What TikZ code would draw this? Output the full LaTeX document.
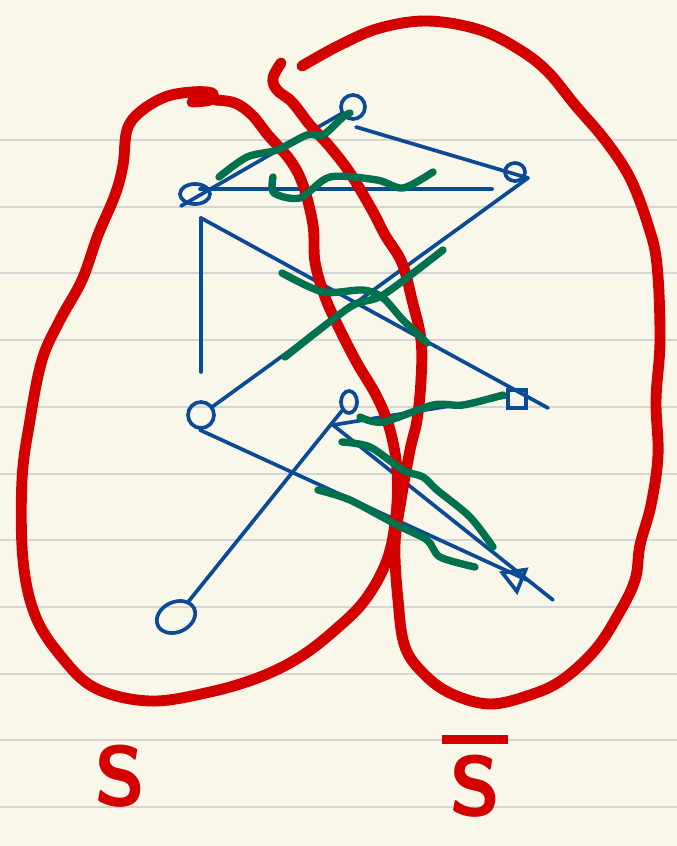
\documentclass[tikz,border=0pt]{standalone}
\usetikzlibrary{shapes.geometric}
\definecolor{paper}{HTML}{F8F7E9}
\definecolor{rule}{HTML}{D5D5D5}
\definecolor{inkred}{HTML}{D40000}
\definecolor{inkblue}{HTML}{0B4A94}
\definecolor{inkgreen}{HTML}{00714E}
\tikzset{
  vert/.style={draw=inkblue, line width=1.05pt, inner sep=0pt},
  edge/.style={draw=inkblue, line width=1.05pt, line cap=round},
  cutset/.style={draw=inkred, line width=3.1pt, line cap=round, line join=round},
  cutedge/.style={draw=inkgreen, line width=2.1pt, line cap=round, line join=round},
  setlabel/.style={text=inkred, font=\fontsize{24}{28}\selectfont\sffamily\bfseries}
}
\begin{document}
\begin{tikzpicture}[x=0.01cm, y=-0.01cm]
    % paper and ruling
    \fill[paper] (0,0) rectangle (677,846);
    \useasboundingbox (0,0) rectangle (677,846);
    \foreach \y in {140,207,273,340,407,474,540,607,674,740,807}
      \draw[rule, line width=0.6pt] (0,\y) -- (677,\y);

    % vertices
    \node[vert, circle, minimum size=0.24cm] (A) at (353,107) {};
    \node[vert, ellipse, minimum width=0.30cm, minimum height=0.20cm] (B) at (195,194) {};
    \node[vert, ellipse, minimum width=0.20cm, minimum height=0.18cm] (C) at (515,172) {};
    \node[vert, circle, minimum size=0.26cm] (D) at (201,415) {};
    \node[vert, ellipse, minimum width=0.16cm, minimum height=0.22cm] (E) at (349,402) {};
    \node[vert, rectangle, minimum size=0.18cm] (F) at (517,399) {};
    \node[vert, regular polygon, regular polygon sides=3, shape border rotate=180, minimum size=0.27cm, rotate=8] (G) at (515,578) {};
    \node[vert, ellipse, minimum width=0.40cm, minimum height=0.30cm, rotate=25] (H) at (176,617) {};

    % free ends
    \coordinate (b1) at (181,206);
    \coordinate (b2) at (200,189);
    \coordinate (b3) at (492,189);
    \coordinate (a1) at (356,127);
    \coordinate (c1) at (528,178);
    \coordinate (v1) at (201,218);
    \coordinate (v2) at (201,372);
    \coordinate (f1) at (548,408);
    \coordinate (d1) at (200,430);
    \coordinate (g1) at (527,580);
    \coordinate (e1) at (333,425);
    \coordinate (e2) at (553,600);
    \coordinate (f2) at (505,397);

    % edges
    \draw[edge] (b1) -- (A);
    \draw[edge] (a1) -- (c1);
    \draw[edge] (b2) -- (b3);
    \draw[edge] (c1) -- (D);
    \draw[edge] (v1) -- (v2);
    \draw[edge] (v1) -- (f1);
    \draw[edge] (d1) -- (g1);
    \draw[edge] (e1) -- (e2);
    \draw[edge] (e1) -- (f2);
    \draw[edge] (H) -- (E);

    % the two sides of the cut
    \draw[cutset] plot[smooth, tension=0.6] coordinates {
      (192,102) (210,100) (212,93) (192,92) (165,97) (140,112) (127,130)
      (123,165) (115,195) (98,235) (82,280) (60,320) (42,360) (30,420)
      (22,480) (23,560) (35,615) (60,655) (95,688) (150,701) (210,692)
      (260,677) (300,657) (335,630) (365,600) (387,560) (396,515) (397,470)
      (390,430) (377,397) (357,363) (340,330) (325,297) (315,262) (313,225)
      (303,185) (290,160) (268,135) (252,115) (235,103) (215,100)};
    \draw[cutset] plot[smooth, tension=0.6] coordinates {
      (302,66) (340,45) (380,28) (428,21) (480,30) (520,50) (548,72)
      (575,105) (605,140) (630,178) (648,225) (657,265) (660,340) (656,400)
      (658,455) (651,505) (640,545) (635,580) (618,615) (595,650) (562,680)
      (530,695) (490,704) (452,694) (425,675) (405,647) (398,600) (395,545)
      (401,500) (410,450) (417,420) (421,380) (421,340) (412,300) (402,263)
      (385,235) (372,210) (350,173) (330,147) (310,125) (292,102) (277,90)
      (273,78) (281,63)};

    % crossing edges
    \draw[cutedge] plot[smooth] coordinates {
      (219,177) (247,157) (277,150) (307,135) (323,135) (343,117) (350,113)};
    \draw[cutedge] plot[smooth] coordinates {
      (273,177) (274,193) (300,198) (330,177) (377,180) (403,188) (433,172)};
    \draw[cutedge] plot[smooth] coordinates {
      (282,273) (323,292) (363,290) (383,298) (403,320) (427,343)};
    \draw[cutedge] plot[smooth] coordinates {
      (285,357) (350,307) (383,295) (443,250)};
    \draw[cutedge] plot[smooth] coordinates {
      (360,417) (383,422) (433,405) (463,405) (503,395)};
    \draw[cutedge] plot[smooth] coordinates {
      (342,442) (370,447) (403,470) (423,477) (437,490) (470,517) (493,547)};
    \draw[cutedge] plot[smooth] coordinates {
      (318,490) (350,500) (397,525) (427,540) (440,557) (475,567)};

    % labels
    \node[setlabel] (S) at (120,776) {S};
    \node[setlabel] (Sbar) at (475,776) {\vbox{\hrule height 2.6pt \kern 3pt \hbox{\kern2pt S\kern2pt}}};
  \end{tikzpicture}
\end{document}
